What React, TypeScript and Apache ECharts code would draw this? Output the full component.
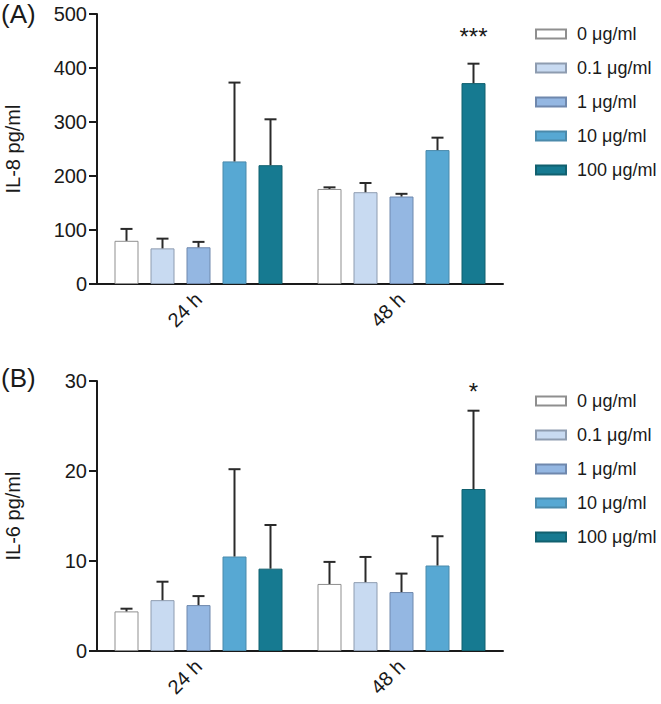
import React, { useEffect, useRef } from "react";
import * as echarts from "echarts";

// ---- data ----
const timepoints = ["24 h", "48 h"];
const concentrations = ["0 μg/ml", "0.1 μg/ml", "1 μg/ml", "10 μg/ml", "100 μg/ml"];

// IL-8 (pg/ml): mean per concentration, [24 h, 48 h]
const il8Mean0 = [80, 176];
const il8Mean01 = [66, 170];
const il8Mean1 = [68, 162];
const il8Mean10 = [227, 248];
const il8Mean100 = [220, 372];
// IL-8 SD (upper error)
const il8Sd0 = [22, 3];
const il8Sd01 = [18, 17];
const il8Sd1 = [10, 5];
const il8Sd10 = [146, 23];
const il8Sd100 = [85, 36];
const il8Sig = [["", ""], ["", ""], ["", ""], ["", ""], ["", "***"]];

// IL-6 (pg/ml)
const il6Mean0 = [4.4, 7.45];
const il6Mean01 = [5.65, 7.65];
const il6Mean1 = [5.1, 6.55];
const il6Mean10 = [10.5, 9.5];
const il6Mean100 = [9.15, 18.0];
const il6Sd0 = [0.3, 2.45];
const il6Sd01 = [2.05, 2.8];
const il6Sd1 = [1.0, 2.05];
const il6Sd10 = [9.7, 3.25];
const il6Sd100 = [4.85, 8.7];
const il6Sig = [["", ""], ["", ""], ["", ""], ["", ""], ["", "*"]];

const il8Ticks = { min: 0, max: 500, interval: 100 };
const il6Ticks = { min: 0, max: 30, interval: 10 };

// ---- styles ----
const FONT = "'Liberation Sans', Arial, sans-serif";
const fills = ["#ffffff", "#c8daf1", "#94b7e2", "#57a8d3", "#167a91"];
const borders = ["#8f8f8f", "#8e9cb0", "#6f88ad", "#4b8aab", "#11606f"];
const BAR_W = 24;
const BAR_GAP = 12;
const TEXT = "#1a1a1a";

function App() {
  const ref = useRef<HTMLDivElement>(null);

  useEffect(() => {
    if (!ref.current) return;
    const chart = echarts.init(ref.current, undefined, { renderer: "svg" });

    const panels = [
      {
        name: "IL-8 pg/ml",
        means: [il8Mean0, il8Mean01, il8Mean1, il8Mean10, il8Mean100],
        sds: [il8Sd0, il8Sd01, il8Sd1, il8Sd10, il8Sd100],
        sig: il8Sig,
        ticks: il8Ticks,
        top: 14,
        legendTop: 20,
        tag: "(A)",
        tagTop: 1,
        sigOffset: 15,
      },
      {
        name: "IL-6 pg/ml",
        means: [il6Mean0, il6Mean01, il6Mean1, il6Mean10, il6Mean100],
        sds: [il6Sd0, il6Sd01, il6Sd1, il6Sd10, il6Sd100],
        sig: il6Sig,
        ticks: il6Ticks,
        top: 381,
        legendTop: 387,
        tag: "(B)",
        tagTop: 365,
        sigOffset: 7,
      },
    ];

    const grid: any[] = [];
    const xAxis: any[] = [];
    const yAxis: any[] = [];
    const legend: any[] = [];
    const series: any[] = [];
    const graphic: any[] = [];

    panels.forEach((p, g) => {
      grid.push({
        left: 97,
        width: 406,
        top: p.top,
        height: 270,
        containLabel: false,
        outerBoundsMode: "none",
      });
      xAxis.push({
        type: "category",
        gridIndex: g,
        data: timepoints,
        axisLine: { lineStyle: { color: TEXT, width: 2 } },
        axisTick: { alignWithLabel: true, length: 7, lineStyle: { width: 2, color: TEXT } },
        axisLabel: { rotate: 45, fontSize: 20, color: TEXT, fontFamily: FONT, margin: 12 },
      });
      yAxis.push({
        type: "value",
        gridIndex: g,
        min: p.ticks.min,
        max: p.ticks.max,
        interval: p.ticks.interval,
        name: p.name,
        nameLocation: "middle",
        nameGap: 74,
        nameTextStyle: { fontSize: 20, color: TEXT, fontFamily: FONT },
        axisLine: { show: true, lineStyle: { color: TEXT, width: 2 } },
        axisTick: { show: true, length: 8, lineStyle: { width: 2, color: TEXT } },
        axisLabel: { fontSize: 20, color: TEXT, fontFamily: FONT, margin: 10 },
        splitLine: { show: false },
      });
      legend.push({
        data: concentrations,
        orient: "vertical",
        left: 530,
        top: p.legendTop,
        itemWidth: 30,
        itemHeight: 9,
        itemGap: 16,
        icon: "rect",
        selectedMode: false,
        textStyle: { fontSize: 18, color: TEXT, fontFamily: FONT, padding: [0, 0, 0, 6] },
      });
      concentrations.forEach((c, i) => {
        series.push({
          type: "bar",
          name: c,
          xAxisIndex: g,
          yAxisIndex: g,
          data: p.means[i],
          barWidth: BAR_W,
          barGap: "50%",
          itemStyle: { color: fills[i], borderColor: borders[i], borderWidth: 1 },
          emphasis: { disabled: true },
        });
      });
      const items: number[][] = [];
      concentrations.forEach((c, i) => {
        timepoints.forEach((t, j) => {
          items.push([j, i, p.means[i][j], p.means[i][j] + p.sds[i][j]]);
        });
      });
      const sig = p.sig;
      const sigOffset = p.sigOffset;
      series.push({
        type: "custom",
        xAxisIndex: g,
        yAxisIndex: g,
        silent: true,
        z: 5,
        data: items,
        encode: { x: 0, y: 3 },
        renderItem: (params: any, api: any) => {
          const cat = api.value(0);
          const idx = api.value(1);
          const mean = api.value(2);
          const top = api.value(3);
          const b = api.coord([cat, mean]);
          const t = api.coord([cat, top]);
          const x = b[0] + (idx - 2) * (BAR_W + BAR_GAP);
          const style = { stroke: "#2a2a2a", lineWidth: 2 };
          const children: any[] = [
            { type: "line", shape: { x1: x, y1: b[1], x2: x, y2: t[1] }, style },
            { type: "line", shape: { x1: x - 6, y1: t[1], x2: x + 6, y2: t[1] }, style },
          ];
          const s = sig[idx][cat];
          if (s) {
            children.push({
              type: "text",
              x,
              y: t[1] - sigOffset,
              style: {
                text: s,
                fontSize: 24,
                fontFamily: FONT,
                fill: TEXT,
                align: "center",
                verticalAlign: "bottom",
              },
            });
          }
          return { type: "group", children };
        },
      });
      graphic.push({
        type: "text",
        left: 1,
        top: p.tagTop,
        style: { text: p.tag, fontSize: 26, fontFamily: FONT, fill: TEXT },
      });
    });

    chart.setOption({
      animation: false,
      backgroundColor: "#ffffff",
      grid,
      xAxis,
      yAxis,
      legend,
      series,
      graphic,
    });
    return () => chart.dispose();
  }, []);

  return (
    <div
      ref={ref}
      style={{ position: "absolute", left: 0, top: 0, width: 661, height: 704 }}
    />
  );
}

export default App;
